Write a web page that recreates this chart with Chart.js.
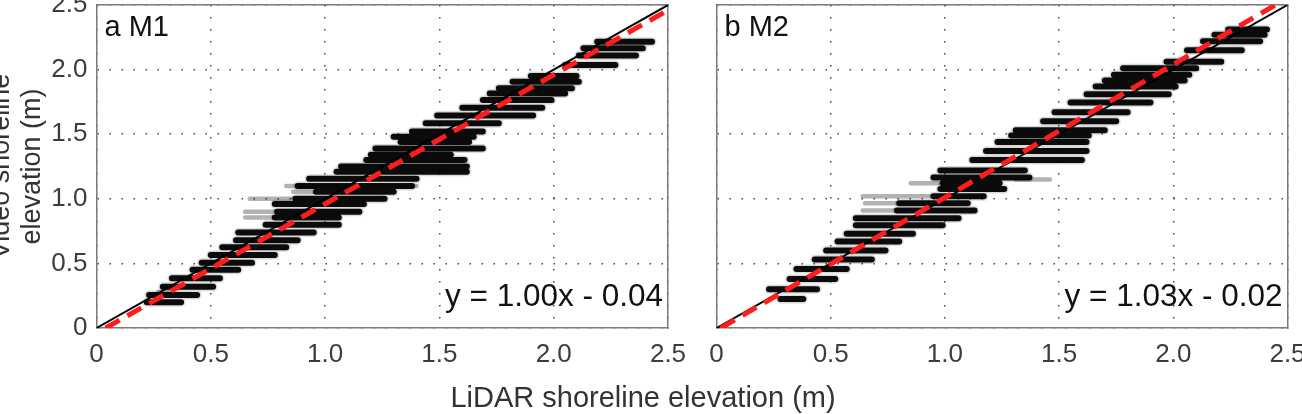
<!DOCTYPE html>
<html>
<head>
<meta charset="utf-8">
<script src="https://cdn.jsdelivr.net/npm/chart.js@4/dist/chart.umd.min.js"></script>
<style>
body{margin:0;width:1302px;height:414px;background:#fff;overflow:hidden;position:relative;font-family:"Liberation Sans",Arial,sans-serif;}
#c1{position:absolute;left:-25px;top:0;}
#c2{position:absolute;left:690px;top:0;}
#xtitle{position:absolute;left:393px;width:500px;top:380px;text-align:center;font-size:29px;line-height:34px;color:#333;white-space:nowrap;}
</style>
</head>
<body>
<canvas id="c1" width="735" height="414"></canvas>
<canvas id="c2" width="612" height="414"></canvas>
<div id="xtitle">LiDAR shoreline elevation (m)</div>
<script>
// axis ticks
const tickValues = [0, 0.5, 1, 1.5, 2, 2.5];
const tickLabels = ['0', '0.5', '1.0', '1.5', '2.0', '2.5'];

// M1 streaks (video elevation level, LiDAR start, LiDAR end)
const m1Level = [0.20,0.255,0.32,0.385,0.45,0.505,0.565,0.625,0.68,0.74,0.80,0.855,0.90,0.96,1.00,1.055,1.10,1.155,1.21,1.25,1.30,1.34,1.39,1.44,1.48,1.52,1.585,1.645,1.705,1.765,1.815,1.855,1.905,1.95,2.035,2.11,2.165,2.215];
const m1Start = [0.22,0.23,0.29,0.33,0.42,0.46,0.50,0.55,0.61,0.62,0.74,0.78,0.79,0.78,0.87,0.96,0.88,0.93,1.05,1.07,1.18,1.20,1.22,1.33,1.30,1.38,1.44,1.49,1.60,1.69,1.72,1.76,1.82,1.90,2.05,2.11,2.13,2.19];
const m1End   = [0.37,0.44,0.51,0.54,0.62,0.68,0.78,0.83,0.88,0.95,1.06,1.06,1.15,1.17,1.26,1.30,1.38,1.40,1.62,1.62,1.61,1.55,1.69,1.63,1.65,1.69,1.76,1.91,1.95,1.99,2.05,2.08,2.11,2.10,2.27,2.36,2.39,2.43];
const m1GreyLevel = [0.28,0.855,0.90,1.00,1.055,1.10];
const m1GreyStart = [0.27,0.65,0.65,0.67,0.86,0.83];
const m1GreyEnd   = [0.32,0.78,0.79,0.87,0.96,1.40];

// M2 streaks
const m2Level = [0.224,0.30,0.38,0.457,0.53,0.60,0.67,0.73,0.795,0.85,0.91,0.965,1.02,1.075,1.12,1.165,1.22,1.30,1.37,1.44,1.49,1.53,1.60,1.67,1.745,1.81,1.87,1.915,1.96,2.01,2.06,2.15,2.22,2.27,2.31];
const m2Start = [0.28,0.23,0.32,0.35,0.43,0.48,0.53,0.57,0.61,0.61,0.79,0.80,0.95,0.98,0.99,0.95,0.98,1.12,1.18,1.23,1.29,1.31,1.43,1.48,1.55,1.62,1.66,1.70,1.74,1.78,1.97,2.06,2.13,2.18,2.24];
const m2End   = [0.38,0.44,0.52,0.57,0.68,0.74,0.80,0.86,0.99,1.06,1.13,1.10,1.17,1.26,1.24,1.37,1.35,1.60,1.62,1.62,1.63,1.70,1.75,1.80,1.90,1.98,2.01,2.05,2.07,2.10,2.21,2.30,2.38,2.40,2.41];
const m2GreyLevel = [0.91,0.965,1.02,1.12,1.15];
const m2GreyStart = [0.64,0.65,0.64,0.85,1.31];
const m2GreyEnd   = [0.79,0.80,0.95,0.99,1.46];

// regression fits
const m1Slope = 1.00, m1Intercept = -0.04;
const m2Slope = 1.03, m2Intercept = -0.02;

const FONT = '"Liberation Sans", Arial, sans-serif';
const GRID = '#4a4a4a';
const FRAME = '#7a7a7a';

function streaks(level, start, end){
const pts = [];
level.forEach((y, i) => {
pts.push({x: start[i], y: y});
pts.push({x: end[i], y: y});
pts.push({x: end[i], y: null});
});
return pts;
}

function fitLine(slope, intercept){
const x0 = -intercept / slope;
const x1 = Math.min(2.5, (2.5 - intercept) / slope);
return [{x: x0, y: 0}, {x: x1, y: slope * x1 + intercept}];
}

function eqText(slope, intercept){
const sign = intercept < 0 ? '-' : '+';
return 'y = ' + slope.toFixed(2) + 'x ' + sign + ' ' + Math.abs(intercept).toFixed(2);
}

const panelText = {
id: 'panelText',
afterDatasetsDraw(chart, args, opts){
const {ctx, chartArea} = chart;
ctx.save();
ctx.fillStyle = '#111';
ctx.textBaseline = 'alphabetic';
ctx.font = '29px ' + FONT;
ctx.textAlign = 'left';
ctx.fillText(opts.label, chartArea.left + 8, chartArea.top + 31);
ctx.font = '31.5px ' + FONT;
ctx.textAlign = 'right';
ctx.fillText(opts.equation, chartArea.right - 5, chartArea.bottom - 22);
ctx.restore();
}
};

function setTicks(scale){
scale.ticks = tickValues.map(v => ({value: v}));
}

function noPad(scale){
scale.paddingTop = 0;
scale.paddingBottom = 0;
scale.paddingLeft = 0;
scale.paddingRight = 0;
}

function makePanel(canvasId, opt){
const datasets = [
{order: 5, data: streaks(opt.level, opt.start, opt.end), showLine: true, borderColor: 'rgba(0,0,0,0.15)', borderWidth: 9, borderCapStyle: 'round', pointRadius: 0},
{order: 4, data: streaks(opt.greyLevel, opt.greyStart, opt.greyEnd), showLine: true, borderColor: 'rgba(0,0,0,0.3)', borderWidth: 4.5, borderCapStyle: 'round', pointRadius: 0},
{order: 3, data: streaks(opt.level, opt.start, opt.end), showLine: true, borderColor: 'rgba(0,0,0,0.95)', borderWidth: 6, borderCapStyle: 'round', pointRadius: 0},
{order: 2, data: [{x: 0, y: 0}, {x: 2.5, y: 2.5}], showLine: true, borderColor: '#000', borderWidth: 2, pointRadius: 0},
{order: 1, data: fitLine(opt.slope, opt.intercept), showLine: true, borderColor: '#ff1c1c', borderWidth: 5, borderDash: [16, 9], pointRadius: 0}
];
return new Chart(document.getElementById(canvasId), {
type: 'scatter',
data: {datasets: datasets},
plugins: [panelText],
options: {
responsive: false,
animation: false,
devicePixelRatio: 1,
layout: {padding: {top: 5, right: opt.padRight, bottom: 0, left: 0}, autoPadding: false},
plugins: {
legend: {display: false},
tooltip: {enabled: false},
panelText: {label: opt.label, equation: eqText(opt.slope, opt.intercept)}
},
scales: {
x: {
type: 'linear', position: 'bottom', min: 0, max: 2.5,
afterBuildTicks: setTicks,
afterFit: s => { s.height = 86; noPad(s); },
ticks: {callback: v => tickLabels[tickValues.indexOf(v)], font: {family: FONT, size: 26}, color: '#3c3c3c', padding: 11, maxRotation: 0, autoSkip: false},
grid: {color: GRID, lineWidth: 1.5, drawTicks: false},
border: {display: true, color: FRAME, width: 1.5, dash: [1.5, 10.5]}
},
y: {
type: 'linear', position: 'left', min: 0, max: 2.5,
afterBuildTicks: setTicks,
afterFit: s => { s.width = opt.yWidth; noPad(s); },
ticks: {display: opt.showY, callback: v => tickLabels[tickValues.indexOf(v)], font: {family: FONT, size: 26}, color: '#3c3c3c', padding: 9},
grid: {color: GRID, lineWidth: 1.5, drawTicks: false},
border: {display: true, color: FRAME, width: 1.5, dash: [1.5, 10.5]},
title: {display: opt.showY, text: ['Video shoreline', 'elevation (m)'], font: {family: FONT, size: 27, lineHeight: 1.15}, color: '#333', padding: {top: 11, bottom: 0}}
},
xTop: {
type: 'linear', position: 'top', min: 0, max: 2.5,
afterFit: s => { s.height = 0; noPad(s); },
ticks: {display: false}, grid: {display: false, drawTicks: false},
border: {display: true, color: FRAME, width: 1.5}
},
yRight: {
type: 'linear', position: 'right', min: 0, max: 2.5,
afterFit: s => { s.width = 0; noPad(s); },
ticks: {display: false}, grid: {display: false, drawTicks: false},
border: {display: true, color: FRAME, width: 1.5}
}
}
}
});
}

makePanel('c1', {
level: m1Level, start: m1Start, end: m1End,
greyLevel: m1GreyLevel, greyStart: m1GreyStart, greyEnd: m1GreyEnd,
slope: m1Slope, intercept: m1Intercept,
label: 'a M1', yWidth: 121.5, padRight: 42, showY: true
});

makePanel('c2', {
level: m2Level, start: m2Start, end: m2End,
greyLevel: m2GreyLevel, greyStart: m2GreyStart, greyEnd: m2GreyEnd,
slope: m2Slope, intercept: m2Intercept,
label: 'b M2', yWidth: 26.5, padRight: 14.5, showY: false
});
</script>
</body>
</html>
